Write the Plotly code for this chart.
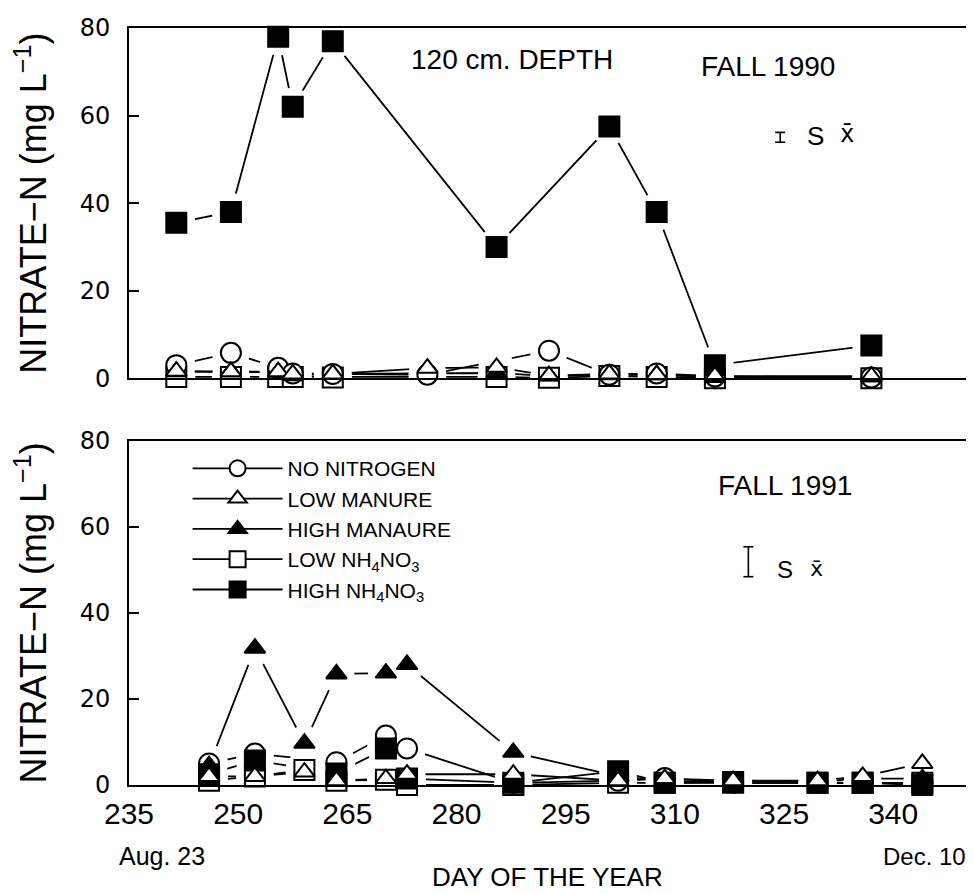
import plotly.graph_objects as go

# ---------------- DATA ----------------
# FALL 1990, 120 cm depth
d90_no_n = [241.5, 249, 255.5, 257.5, 263, 276, 292.7, 301, 307.5, 315.5, 337]
v90_no_n = [3.0, 5.8, 2.4, 1.1, 1.0, 0.8, 6.3, 0.8, 1.1, 0.4, 0.2]

d90_low_man = [241.5, 249, 255.5, 257.5, 263, 276, 285.5, 292.7, 301, 307.5, 315.5, 337]
v90_low_man = [1.6, 1.5, 1.5, 1.0, 1.0, 2.3, 2.5, 0.6, 1.0, 0.8, 0.5, 0.5]

d90_high_man = [241.5, 249, 255.5, 257.5, 263, 285.5, 292.7, 301, 307.5, 315.5, 337]
v90_high_man = [1.5, 1.5, 1.4, 0.6, 1.0, 1.2, 0.5, 0.8, 0.8, 0.2, 0.3]

d90_low_nh = [241.5, 249, 255.5, 257.5, 263, 285.5, 292.7, 301, 307.5, 315.5, 337]
v90_low_nh = [0.3, 0.3, 0.3, 0.3, 0.2, 0.3, 0.1, 0.5, 0.3, 0.0, 0.0]

d90_high_nh = [241.5, 249, 255.5, 257.5, 263, 285.5, 301, 307.5, 315.5, 337]
v90_high_nh = [35.5, 38.0, 78.0, 62.0, 77.0, 30.0, 57.5, 38.0, 3.0, 7.5]

# FALL 1991
d91_no_n = [246, 252.3, 263.5, 270.3, 273.2, 287.8, 302.2, 308.6, 318, 329.6, 335.8, 344]
v91_no_n = [5.0, 7.3, 5.3, 11.5, 8.5, 0.5, 1.0, 1.6, 0.5, 0.5, 0.5, 0.5]

d91_low_man = [246, 252.3, 259.1, 263.5, 270.3, 273.2, 287.8, 302.2, 308.6, 318, 329.6, 335.8, 344]
v91_low_man = [2.0, 2.0, 3.0, 1.0, 1.5, 2.5, 2.5, 1.0, 1.5, 1.0, 1.0, 2.0, 5.0]

d91_high_man = [246, 252.3, 259.1, 263.5, 270.3, 273.2, 287.8, 302.2, 308.6, 318, 329.6, 335.8, 344]
v91_high_man = [4.5, 31.8, 9.7, 25.8, 26.0, 28.0, 7.6, 2.0, 1.0, 0.5, 0.8, 1.5, 1.5]

d91_low_nh = [246, 252.3, 259.1, 263.5, 270.3, 273.2, 287.8, 302.2, 308.6, 318, 329.6, 335.8, 344]
v91_low_nh = [1.0, 2.0, 3.5, 1.0, 1.2, 0.0, 0.0, 0.5, 0.5, 0.5, 0.5, 0.5, 0.5]

d91_high_nh = [246, 252.3, 263.5, 270.3, 273.2, 287.8, 302.2, 308.6, 318, 329.6, 335.8, 344]
v91_high_nh = [2.5, 5.7, 2.7, 8.5, 1.5, 0.5, 3.2, 0.5, 0.7, 0.5, 0.5, 0.0]

series_names = ["NO NITROGEN", "LOW MANURE", "HIGH MANAURE",
                "LOW NH<sub>4</sub>NO<sub>3</sub>", "HIGH NH<sub>4</sub>NO<sub>3</sub>"]
x_tick_vals = [235, 250, 265, 280, 295, 310, 325, 340]
y_tick_vals = [0, 20, 40, 60, 80]

# ---------------- STYLE ----------------
SANS = "Liberation Sans, Arial, sans-serif"
styles = {
    "NO NITROGEN": dict(symbol="circle", color="white", size=20),
    "LOW MANURE": dict(symbol="triangle-up", color="white", size=18),
    "HIGH MANAURE": dict(symbol="triangle-up", color="black", size=18),
    "LOW NH<sub>4</sub>NO<sub>3</sub>": dict(symbol="square", color="white", size=20),
    "HIGH NH<sub>4</sub>NO<sub>3</sub>": dict(symbol="square", color="black", size=20),
}
draw_order = [3, 0, 4, 2, 1]

panels = [
    ("x2", "y2", [(d90_no_n, v90_no_n), (d90_low_man, v90_low_man), (d90_high_man, v90_high_man),
                  (d90_low_nh, v90_low_nh), (d90_high_nh, v90_high_nh)], False),
    ("x", "y", [(d91_no_n, v91_no_n), (d91_low_man, v91_low_man), (d91_high_man, v91_high_man),
                (d91_low_nh, v91_low_nh), (d91_high_nh, v91_high_nh)], True),
]

fig = go.Figure()
for xa, ya, data, legend in panels:
    # lines (with markers, carrying the legend entries)
    for i in draw_order:
        name = series_names[i]
        st = styles[name]
        xs, ys = data[i]
        fig.add_trace(go.Scatter(
            x=xs, y=ys, xaxis=xa, yaxis=ya, mode="lines+markers", name=name,
            legendrank=i + 1, showlegend=legend, cliponaxis=False,
            line=dict(color="black", width=1.8),
            marker=dict(symbol=st["symbol"], size=st["size"], color=st["color"],
                        line=dict(color="black", width=2)),
        ))
    # white halos make the gaps between line ends and markers
    for i in draw_order:
        name = series_names[i]
        st = styles[name]
        xs, ys = data[i]
        fig.add_trace(go.Scatter(
            x=xs, y=ys, xaxis=xa, yaxis=ya, mode="markers", showlegend=False,
            hoverinfo="skip", cliponaxis=False,
            marker=dict(symbol="circle", size=st["size"] + 18, color="white",
                        line=dict(width=0)),
        ))
    # markers on top
    for i in draw_order:
        name = series_names[i]
        st = styles[name]
        xs, ys = data[i]
        fig.add_trace(go.Scatter(
            x=xs, y=ys, xaxis=xa, yaxis=ya, mode="markers", showlegend=False,
            name=name, cliponaxis=False,
            marker=dict(symbol=st["symbol"], size=st["size"], color=st["color"],
                        line=dict(color="black", width=2)),
        ))

axis_common = dict(showline=True, mirror=True, linecolor="black", linewidth=2,
                   showgrid=False, zeroline=False, layer="above traces")
ytitle = "NITRATE−N (mg L<sup>−1</sup>)"
ytick_font = dict(family="DejaVu Sans, sans-serif", size=24)

# the page body has an 8 px margin: figure is sized/offset to compensate
fig.update_layout(
    width=966, height=886,
    margin=dict(l=121, r=6, t=14, b=109),
    paper_bgcolor="white", plot_bgcolor="white",
    font=dict(family=SANS, color="black"),
    xaxis=dict(domain=[0, 1], anchor="y", range=[235, 350], tickvals=x_tick_vals,
               ticks="", ticklabelstandoff=1,
               tickfont=dict(family=SANS, size=30), **axis_common),
    yaxis=dict(domain=[0, 0.4548], anchor="x", range=[0, 80], tickvals=y_tick_vals,
               ticks="inside", ticklen=10, tickwidth=1.5, tickcolor="black",
               ticklabelstandoff=12, tickfont=ytick_font,
               title=dict(text=ytitle, font=dict(family=SANS, size=36), standoff=24),
               **axis_common),
    xaxis2=dict(domain=[0, 1], anchor="y2", range=[235, 350], tickvals=x_tick_vals,
                showticklabels=False, ticks="", matches="x", **axis_common),
    yaxis2=dict(domain=[0.5373, 1], anchor="x2", range=[0, 80], tickvals=y_tick_vals,
                ticks="inside", ticklen=10, tickwidth=1.5, tickcolor="black",
                ticklabelstandoff=12, tickfont=ytick_font,
                title=dict(text=ytitle, font=dict(family=SANS, size=36), standoff=24),
                **axis_common),
    legend=dict(x=0.07, y=0.445, xanchor="left", yanchor="top",
                bgcolor="rgba(0,0,0,0)", font=dict(family=SANS, size=21),
                tracegroupgap=0, itemwidth=90, traceorder="normal"),
    showlegend=True,
)

annots = [
    dict(text="120 cm. DEPTH", xref="x2 domain", yref="y2 domain", x=0.458, y=0.909,
         font=dict(family=SANS, size=28)),
    dict(text="FALL 1990", xref="x2 domain", yref="y2 domain", x=0.764, y=0.890,
         font=dict(family=SANS, size=28)),
    dict(text="S", xref="x2 domain", yref="y2 domain", x=0.820, y=0.691,
         font=dict(family=SANS, size=26)),
    dict(text="x̄", xref="x2 domain", yref="y2 domain", x=0.858, y=0.697,
         font=dict(family="DejaVu Sans Mono, monospace", size=24)),
    dict(text="FALL 1991", xref="x domain", yref="y domain", x=0.784, y=0.870,
         font=dict(family=SANS, size=28)),
    dict(text="S", xref="x domain", yref="y domain", x=0.784, y=0.625,
         font=dict(family=SANS, size=24)),
    dict(text="x̄", xref="x domain", yref="y domain", x=0.821, y=0.630,
         font=dict(family="DejaVu Sans Mono, monospace", size=22)),
    dict(text="Aug. 23", xref="paper", yref="paper", x=0.039, y=-0.094,
         font=dict(family=SANS, size=25)),
    dict(text="Dec. 10", xref="paper", yref="paper", x=1.002, y=-0.094, xanchor="right",
         font=dict(family=SANS, size=24)),
    dict(text="DAY OF THE YEAR", xref="paper", yref="paper", x=0.50, y=-0.121,
         font=dict(family=SANS, size=26)),
]
for a in annots:
    a.setdefault("xanchor", "center")
    a.update(showarrow=False, yanchor="middle")
    fig.add_annotation(**a)

# standard-error scale bars ("I")
def ibar(xref, yref, xc, y0, y1, w):
    shp = [dict(type="line", xref=xref, yref=yref, x0=xc, x1=xc, y0=y0, y1=y1,
                line=dict(color="black", width=1.6))]
    for yy in (y0, y1):
        shp.append(dict(type="line", xref=xref, yref=yref, x0=xc - w, x1=xc + w, y0=yy, y1=yy,
                        line=dict(color="black", width=1.6)))
    return shp

for s in ibar("x2 domain", "y2 domain", 0.778, 0.674, 0.702, 0.006) + \
         ibar("x domain", "y domain", 0.740, 0.605, 0.692, 0.006):
    fig.add_shape(**s)

fig.write_html("out.html")
